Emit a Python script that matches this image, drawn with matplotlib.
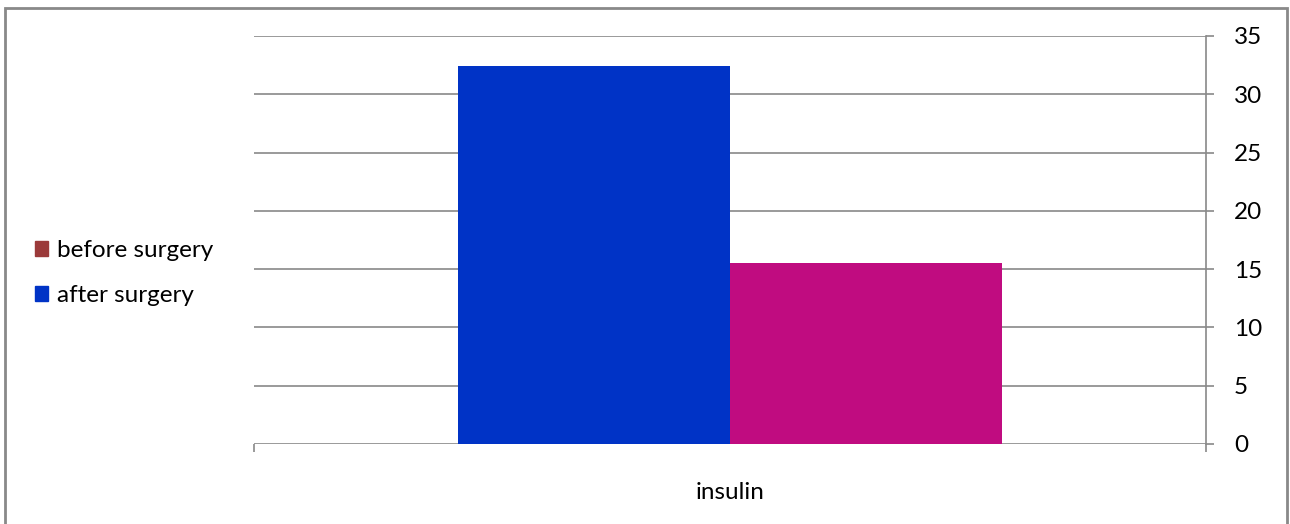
import numpy as np
import matplotlib.pyplot as plt
from matplotlib.patches import Rectangle

categories = ['insulin']
series = ['before surgery', 'after surgery']
before = [32.4]
after = [15.5]
yticks = [0, 5, 10, 15, 20, 25, 30, 35]

bar_colors = ['#0033c6', '#c00c80']
legend_colors = ['#9b3a3a', '#0033c6']
grid_col = '#898989'

plt.rcParams['font.family'] = ['Lato', 'DejaVu Sans']
fs = 17.5

fig = plt.figure(figsize=(12.9, 5.24), dpi=100)
ax = fig.add_axes([254 / 1290, 80 / 524, 952 / 1290, 408 / 524])

x = np.arange(len(categories))
w = 0.286
ax.bar(x - w / 2, before, width=w, color=bar_colors[0], zorder=3)
ax.bar(x + w / 2, after, width=w, color=bar_colors[1], zorder=3)

ax.set_xlim(-0.5, 0.5)
ax.set_ylim(0, 35)
ax.set_yticks(yticks)
ax.yaxis.tick_right()
ax.tick_params(axis='y', direction='out', length=6, width=1.2, color=grid_col,
               labelsize=fs, pad=14)
ax.set_xticks([-0.5, 0.5])
ax.set_xticklabels([])
ax.tick_params(axis='x', direction='out', length=6, width=1.2, color=grid_col)
ax.text(0, -0.12, categories[0], transform=ax.get_xaxis_transform(),
        ha='center', va='center', fontsize=fs)

for y in yticks:
    ax.axhline(y, color=grid_col, lw=1.2, zorder=1)

for s in ['top', 'left', 'bottom']:
    ax.spines[s].set_visible(False)
ax.spines['right'].set_color(grid_col)
ax.spines['right'].set_linewidth(1.2)

handles = [Rectangle((0, 0), 1, 1, color=c) for c in legend_colors]
fig.legend(handles, series, loc='center left', bbox_to_anchor=(13 / 1290, 1 - 273 / 524),
           frameon=False, fontsize=fs, handlelength=0.55, handleheight=0.55,
           handletextpad=0.35, labelspacing=1.0)

fig.patches.append(Rectangle((5 / 1290, -0.1), 1282 / 1290, 1.1 - 8 / 524,
                             transform=fig.transFigure, fill=False,
                             edgecolor=grid_col, lw=2, clip_on=False))

fig.savefig('out.png', dpi=100)
